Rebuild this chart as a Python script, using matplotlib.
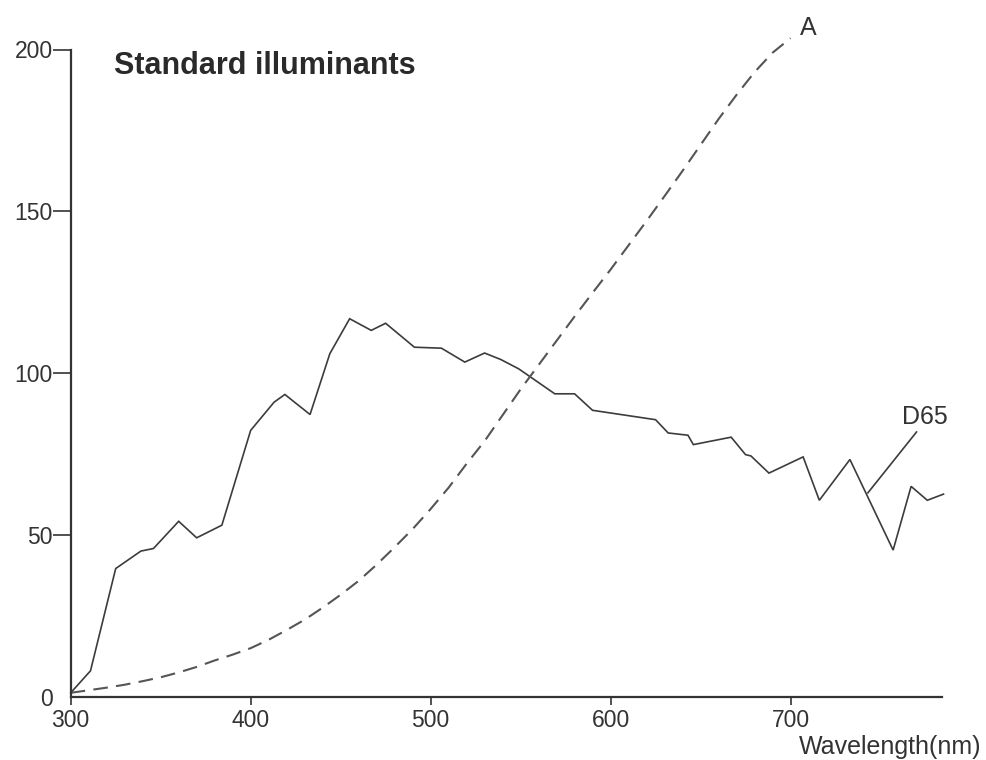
import matplotlib
matplotlib.use("Agg")
import matplotlib.pyplot as plt

plt.rcParams['font.family'] = ['Liberation Sans', 'DejaVu Sans']

# CIE illuminant A
a_wl = [300, 310, 320, 330, 340, 350, 360, 370, 380, 390, 400, 410, 420, 430, 440,
        450, 460, 470, 480, 490, 500, 510, 520, 530, 540, 550, 560, 570, 580, 590,
        600, 610, 620, 630, 640, 650, 660, 670, 680, 690, 700]
a_val = [1.2, 2.0, 2.8, 3.7, 4.8, 6.0, 7.5, 9.2, 11.2, 13.0, 15.0, 17.6, 20.6, 23.8, 27.5,
         31.5, 35.8, 40.8, 46.2, 51.8, 58.0, 64.6, 72.0, 79.0, 87.0, 95.0, 102.5, 110.0, 117.5, 124.8,
         132.0, 139.5, 147.0, 154.7, 162.5, 170.5, 178.5, 186.0, 193.0, 199.0, 203.5]

# D65
d65_wl = [300, 311, 325, 339, 346, 360, 370, 384, 400, 413, 419, 433, 444, 455, 467,
          475, 491, 506, 519, 530, 539, 549, 569, 580, 590, 625, 632, 643, 646, 667,
          675, 678, 688, 707, 716, 733, 757, 767, 776, 785]
d65_val = [1.2, 8.0, 39.6, 45.0, 45.8, 54.2, 49.1, 53.0, 82.3, 91.0, 93.4, 87.2, 106.0, 116.8, 113.2,
           115.4, 108.0, 107.7, 103.4, 106.2, 104.2, 101.3, 93.6, 93.6, 88.5, 85.6, 81.5, 80.8, 77.9, 80.2,
           74.8, 74.4, 69.1, 74.1, 60.7, 73.3, 45.3, 65.0, 60.7, 62.6]

x_ticks = [300, 400, 500, 600, 700]
y_ticks = [0, 50, 100, 150, 200]

fig = plt.figure(figsize=(9.87, 7.6), dpi=100)
ax = fig.add_axes([70.7/987, 1-696.7/760, (941.7-70.7)/987, (696.7-49.5)/760])

ink = '#333333'
ax.plot(d65_wl, d65_val, color='#3c3c3c', lw=1.2, solid_joinstyle='miter', clip_on=False)
ax.plot(a_wl, a_val, color='#555555', lw=1.5, linestyle=(0, (7, 4)), clip_on=False)

ax.set_xlim(300, 784)
ax.set_ylim(0, 200)
for s in ['top', 'right']:
    ax.spines[s].set_visible(False)
for s in ['left', 'bottom']:
    ax.spines[s].set_color(ink)
    ax.spines[s].set_linewidth(1.6)

ax.set_xticks(x_ticks)
ax.set_yticks(y_ticks)
ax.set_xticklabels([str(v) for v in x_ticks])
ax.set_yticklabels([str(v) for v in y_ticks])
ax.tick_params(axis='x', direction='out', length=6, width=1.2, color=ink,
               labelsize=16.5, labelcolor=ink, pad=3)
ax.tick_params(axis='y', direction='out', length=13, width=1.2, color=ink,
               labelsize=16.5, labelcolor=ink, pad=0)
ax.yaxis.get_major_ticks()[0].tick1line.set_visible(False)

ax.text(324, 195, 'Standard illuminants', fontsize=22, fontweight='bold',
        color='#2a2a2a', ha='left', va='center')
ax.text(705, 206.5, 'A', fontsize=18, color=ink, ha='left', va='center', clip_on=False)
ax.text(762, 86.5, 'D65', fontsize=18, color=ink, ha='left', va='center')
ax.plot([743, 770], [63, 81.8], color='#3c3c3c', lw=1.2)

fig.text(981/987, 1-746.7/760, 'Wavelength(nm)', fontsize=18, color=ink,
         ha='right', va='center')

fig.savefig('out.png', dpi=100, facecolor='white')
